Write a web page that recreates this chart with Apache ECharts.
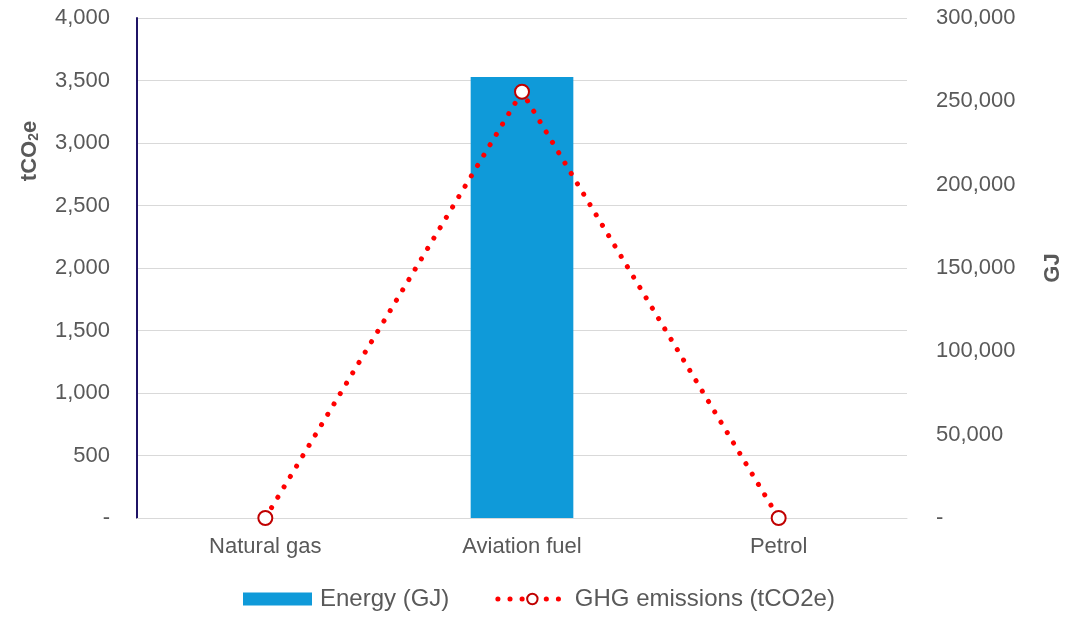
<!DOCTYPE html>
<html><head><meta charset="utf-8">
<script src="https://cdn.jsdelivr.net/npm/echarts@6/dist/echarts.min.js"></script>
<style>html,body{margin:0;padding:0;background:#fff;overflow:hidden}#c{width:1065px;height:617px}</style>
</head><body><div id="c"></div>
<script>
const categories = ['Natural gas', 'Aviation fuel', 'Petrol'];
const energyGJ = [0, 264600, 0];
const ghgTCO2e = [0, 3410, 0];
const leftTicks = [0, 500, 1000, 1500, 2000, 2500, 3000, 3500, 4000];
const rightTicks = [0, 50000, 100000, 150000, 200000, 250000, 300000];

const fmt = v => v === 0 ? '-' : v.toLocaleString('en-US');
const FONT = 'Liberation Sans, Arial, sans-serif';
const dotted = { color: '#ff0000', width: 5, type: [0.1, 12], cap: 'round' };
const chart = echarts.init(document.getElementById('c'));
chart.setOption({
  animation: false,
  textStyle: { fontFamily: FONT },
  grid: { left: 137, right: 158, top: 18, bottom: 99, outerBoundsMode: 'none', containLabel: false },
  legend: {
    bottom: 1, left: 238, itemWidth: 69, itemHeight: 13, itemGap: 46,
    textStyle: { fontSize: 24, color: '#595959', fontFamily: FONT, padding: [0, 0, 0, 3] },
    data: [{ name: 'Energy (GJ)', icon: 'rect' }, { name: 'GHG emissions (tCO2e)', lineStyle: dotted }]
  },
  xAxis: {
    type: 'category', data: categories,
    axisLine: { show: true, lineStyle: { color: '#d9d9d9', width: 1 } },
    axisTick: { show: false },
    axisLabel: { color: '#595959', fontSize: 22, margin: 18 }
  },
  yAxis: [{
    type: 'value', min: leftTicks[0], max: leftTicks[leftTicks.length - 1], interval: 500,
    name: '{a|tCO}{s|2}{a|e}', nameLocation: 'middle', nameRotate: 90, nameGap: 96,
    nameTextStyle: { padding: [0, 0, 0, 234], rich: { a: { fontSize: 22, fontWeight: 'bold', color: '#595959', fontFamily: FONT }, s: { fontSize: 14, fontWeight: 'bold', color: '#595959', fontFamily: FONT, padding: [9, 0, 0, 0] } } },
    axisLine: { show: true, lineStyle: { color: '#1f1466', width: 2 } },
    axisTick: { show: false },
    splitLine: { lineStyle: { color: '#d9d9d9', width: 1 } },
    axisLabel: { color: '#595959', fontSize: 22, margin: 27, formatter: fmt }
  }, {
    type: 'value', min: rightTicks[0], max: rightTicks[rightTicks.length - 1], interval: 50000,
    name: 'GJ', nameLocation: 'middle', nameRotate: 90, nameGap: 135,
    nameTextStyle: { fontSize: 22, fontWeight: 'bold', color: '#595959' },
    axisLine: { show: false }, axisTick: { show: false }, splitLine: { show: false },
    axisLabel: { color: '#595959', fontSize: 22, margin: 29, formatter: fmt }
  }],
  series: [{
    name: 'Energy (GJ)', type: 'bar', yAxisIndex: 1, data: energyGJ,
    barWidth: '40%', itemStyle: { color: '#0f9ad9' }
  }, {
    name: 'GHG emissions (tCO2e)', type: 'line', yAxisIndex: 0, data: ghgTCO2e,
    symbol: 'circle', symbolSize: 14, showSymbol: true,
    itemStyle: { color: '#fff', borderColor: '#c00000', borderWidth: 2 },
    lineStyle: dotted
  }]
});
</script></body></html>
